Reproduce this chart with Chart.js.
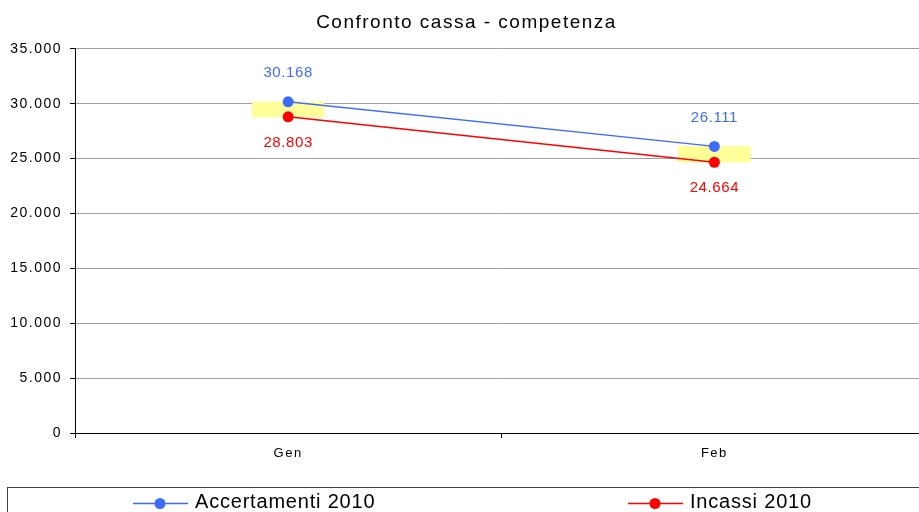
<!DOCTYPE html>
<html>
<head>
<meta charset="utf-8">
<script src="https://cdn.jsdelivr.net/npm/chart.js@4/dist/chart.umd.min.js"></script>
<style>
  html, body { margin: 0; padding: 0; background: #fff; overflow: hidden; }
</style>
</head>
<body>
<canvas id="c" width="933" height="512"></canvas>
<script>
// data
const categories = ['Gen', 'Feb'];
const accertamenti = [30168, 26111];
const incassi = [28803, 24664];
const yTicks = [0, 5000, 10000, 15000, 20000, 25000, 30000, 35000];

const BLUE = '#3d6bff';
const RED = '#ff0000';
const YELLOW = '#ffff99';
const FONT = '"Liberation Sans", Arial, sans-serif';

// 30168 -> "30.168"
const fmt = v => String(Math.round(v)).replace(/\B(?=(\d{3})+(?!\d))/g, '.');

const gap = categories.map((c, i) => [Math.min(accertamenti[i], incassi[i]), Math.max(accertamenti[i], incassi[i])]);

// the original text is rendered a bit spread out
const spacing = {
  id: 'spacing',
  beforeUpdate(chart) { chart.ctx.letterSpacing = '1.5px'; },
  beforeDraw(chart) { chart.ctx.letterSpacing = '1.5px'; }
};

// value labels above blue / below red
const valueLabels = {
  id: 'valueLabels',
  afterDatasetsDraw(chart) {
    const ctx = chart.ctx;
    ctx.save();
    ctx.letterSpacing = '0.6px';
    ctx.font = '15px ' + FONT;
    ctx.textAlign = 'center';
    ctx.textBaseline = 'middle';
    chart.data.datasets.forEach((ds, di) => {
      if (!ds.labelPos) return;
      const meta = chart.getDatasetMeta(di);
      meta.data.forEach((pt, i) => {
        ctx.fillStyle = ds.borderColor;
        const dy = ds.labelPos === 'above' ? -29 : 26;
        ctx.fillText(fmt(ds.data[i]), pt.x, pt.y + dy);
      });
    });
    ctx.restore();
  }
};

// boxed legend along the bottom
const boxLegend = {
  id: 'boxLegend',
  afterDraw(chart) {
    const ctx = chart.ctx;
    const y = 503.5;
    const slots = [133, 628];
    ctx.save();
    ctx.letterSpacing = '0.8px';
    ctx.strokeStyle = '#404040';
    ctx.lineWidth = 1;
    ctx.strokeRect(7.5, 487.5, chart.width, 40);
    let k = 0;
    chart.data.datasets.forEach(ds => {
      if (!ds.labelPos) return;
      const x = slots[k++];
      ctx.strokeStyle = ds.borderColor;
      ctx.lineWidth = 1.5;
      ctx.beginPath();
      ctx.moveTo(x, y);
      ctx.lineTo(x + 55, y);
      ctx.stroke();
      ctx.fillStyle = ds.borderColor;
      ctx.beginPath();
      ctx.arc(x + 27, y, 5.5, 0, Math.PI * 2);
      ctx.fill();
      ctx.fillStyle = '#000';
      ctx.font = '20px ' + FONT;
      ctx.textBaseline = 'alphabetic';
      ctx.fillText(ds.label, x + 62, 508);
    });
    ctx.restore();
  }
};

new Chart(document.getElementById('c'), {
  type: 'line',
  data: {
    labels: categories,
    datasets: [
      {
        label: 'Accertamenti 2010',
        data: accertamenti,
        borderColor: BLUE,
        backgroundColor: BLUE,
        borderWidth: 1.5,
        pointRadius: 5.5,
        pointBorderWidth: 0,
        pointHoverRadius: 5.5,
        labelPos: 'above',
        order: 1
      },
      {
        label: 'Incassi 2010',
        data: incassi,
        borderColor: RED,
        backgroundColor: RED,
        borderWidth: 1.5,
        pointRadius: 5.5,
        pointBorderWidth: 0,
        pointHoverRadius: 5.5,
        labelPos: 'below',
        order: 2
      },
      {
        type: 'bar',
        label: 'Differenza',
        data: gap,
        backgroundColor: YELLOW,
        borderWidth: 0,
        barThickness: 72,
        order: 3
      }
    ]
  },
  options: {
    responsive: false,
    animation: false,
    events: [],
    layout: { padding: 0 },
    plugins: {
      legend: { display: false },
      tooltip: { enabled: false },
      title: {
        display: true,
        text: 'Confronto cassa - competenza',
        color: '#000',
        font: { family: FONT, size: 19, weight: 'normal' },
        padding: { top: 11, bottom: 15 }
      }
    },
    scales: {
      x: {
        offset: true,
        grid: { offset: true, drawOnChartArea: false, drawTicks: true, tickLength: 5, tickColor: '#000' },
        border: { color: '#000', width: 1 },
        ticks: { color: '#000', font: { family: FONT, size: 13 }, padding: 8 },
        afterFit: s => { s.height = 79; }
      },
      y: {
        min: 0,
        max: 35000,
        afterBuildTicks: s => { s.ticks = yTicks.map(v => ({ value: v })); },
        grid: { color: '#a0a0a0', lineWidth: 1, drawTicks: true, tickLength: 5, tickColor: '#000' },
        border: { color: '#000', width: 1 },
        ticks: { color: '#000', font: { family: FONT, size: 14 }, padding: 8, callback: v => fmt(v) },
        afterFit: s => { s.width = 75; }
      }
    }
  },
  plugins: [spacing, valueLabels, boxLegend]
});
</script>
</body>
</html>
